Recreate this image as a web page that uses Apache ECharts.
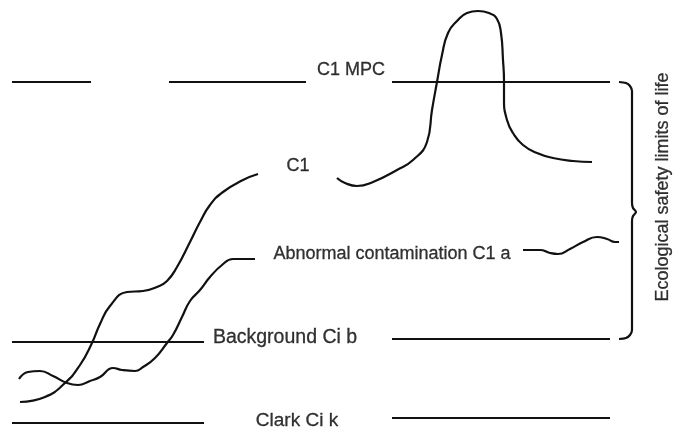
<!DOCTYPE html>
<html>
<head>
<meta charset="utf-8">
<script src="https://cdn.jsdelivr.net/npm/echarts@6/dist/echarts.min.js"></script>
<style>
  html, body { margin: 0; padding: 0; background: #fff; }
  #chart { width: 674px; height: 434px; }
</style>
</head>
<body>
<div id="chart"></div>
<script>
// level lines: [x start, x end, y]
var mpcLine = [[12, 91, 82], [169, 306, 82], [392, 610, 82]];
var backgroundLine = [[12, 204, 342], [392, 610, 339]];
var clarkLine = [[12, 204, 423], [392, 610, 418]];

// curves
var c1Left = [[20, 402], [45, 397], [65, 383], [80, 365], [92, 343], [100, 324], [110, 306],
  [127, 292], [143, 291], [157, 287], [167, 281], [177, 267], [190, 242], [200, 222], [210, 205],
  [223, 192], [243, 180], [258, 174]];
var c1Right = [[337, 178], [345, 183], [357, 186], [373, 182], [397, 170], [413, 160], [427, 142],
  [432, 110], [437, 82], [442, 55], [448, 33], [457, 21], [467, 13], [478, 11], [489, 13], [497, 19],
  [501, 33], [503, 60], [504, 81], [504, 100], [507, 120], [513, 133], [523, 145], [537, 153],
  [553, 158], [573, 161], [592, 162]];
var abnormalLeft = [[19, 379], [28, 372], [40, 371], [53, 376], [67, 383], [78, 385], [90, 381],
  [100, 377], [113, 368], [122, 370], [135, 371], [143, 367], [155, 358], [167, 343], [173, 335],
  [182, 317], [190, 301], [200, 290], [210, 277], [222, 265], [233, 259], [255, 259]];
var abnormalRight = [[523, 250], [540, 250], [550, 253], [558, 254], [570, 249], [583, 242],
  [597, 237], [607, 239], [615, 242], [619, 242]];

// brace on the right
var brace = [[619, 82], [626, 83], [630, 86], [632, 91], [632, 203], [633, 208], [636, 212],
  [633, 216], [632, 221], [632, 330], [630, 335], [626, 338], [619, 339]];

var labelTexts = ['C1 MPC', 'C1', 'Abnormal contamination C1 a', 'Background Ci b', 'Clark Ci k'];
var labelPoints = [[351, 70], [298, 166], [392, 254], [285, 338], [297, 421]];
var sideText = 'Ecological safety limits of life';
var sidePoint = [663, 187];

var labelFontSizes = [18, 18, 18, 19.5, 19];
var ink = '#000';
var font = 'Liberation Sans, Arial, sans-serif';
var chart = echarts.init(document.getElementById('chart'));

function lineSeries(data, smooth) {
  return {
    type: 'line',
    data: data,
    symbol: 'none',
    smooth: smooth,
    silent: true,
    lineStyle: { color: '#111', width: 2.2 }
  };
}

var series = [];
[mpcLine, backgroundLine, clarkLine].forEach(function (lv) {
  lv.forEach(function (s) {
    series.push(lineSeries([[s[0], s[2]], [s[1], s[2]]], false));
  });
});
series.push(lineSeries(c1Left, 0.5));
series.push(lineSeries(c1Right, 0.5));
series.push(lineSeries(abnormalLeft, 0.5));
series.push(lineSeries(abnormalRight, 0.5));
series.push(lineSeries(brace, 0.3));

// text labels
series.push({
  type: 'scatter',
  symbolSize: 0,
  silent: true,
  data: labelTexts.map(function (t, i) {
    return { name: t, value: labelPoints[i], label: { fontSize: labelFontSizes[i] } };
  }),
  label: {
    show: true,
    position: 'inside',
    formatter: '{b}',
    color: ink,
    textBorderColor: ink,
    textBorderWidth: 0.3,
    fontSize: 18,
    fontFamily: font
  }
});
series.push({
  type: 'scatter',
  symbolSize: 0,
  silent: true,
  data: [{ name: sideText, value: sidePoint }],
  label: {
    show: true,
    position: 'inside',
    rotate: 90,
    formatter: '{b}',
    color: ink,
    textBorderColor: ink,
    textBorderWidth: 0.3,
    fontSize: 18,
    fontFamily: font
  }
});

chart.setOption({
  animation: false,
  backgroundColor: '#fff',
  grid: { left: 0, right: 0, top: 0, bottom: 0 },
  xAxis: { type: 'value', min: 0, max: 674, show: false },
  yAxis: { type: 'value', min: 0, max: 434, inverse: true, show: false },
  series: series
});
</script>
</body>
</html>
